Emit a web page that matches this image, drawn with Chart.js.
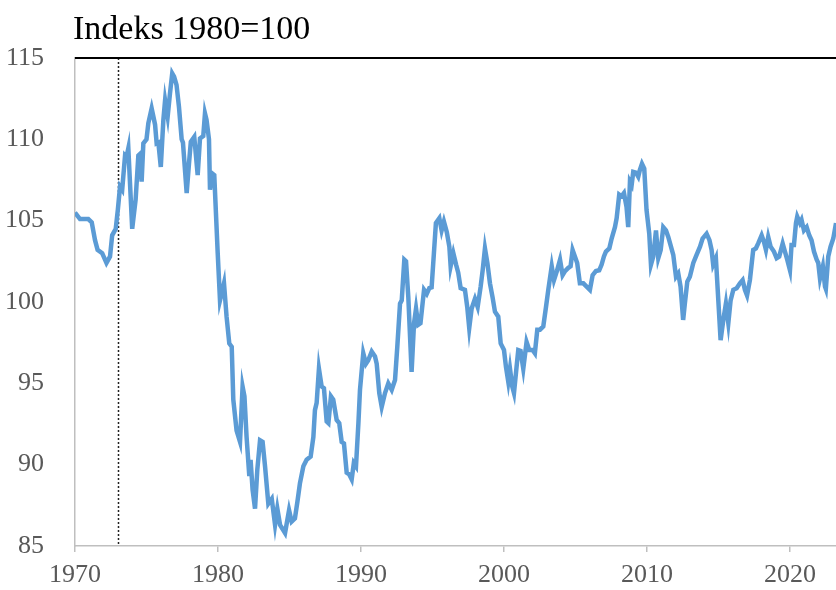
<!DOCTYPE html>
<html>
<head>
<meta charset="utf-8">
<script src="https://cdn.jsdelivr.net/npm/chart.js@4/dist/chart.umd.min.js"></script>
<style>
  html, body { margin: 0; padding: 0; background: #fff; }
  #wrap { width: 836px; height: 590px; }
</style>
</head>
<body>
<div id="wrap"><canvas id="myChart" width="836" height="590"></canvas></div>
<script>
// values (decimal year -> index)
var years = [
    1970.0, 1970.35, 1970.93, 1971.17, 1971.4, 1971.58, 1971.9, 1972.2, 1972.45, 1972.6, 1972.85,
    1973.0, 1973.15, 1973.3, 1973.5, 1973.6, 1973.73, 1974.0, 1974.24, 1974.43, 1974.55, 1974.66, 1974.78,
    1975.0, 1975.13, 1975.36, 1975.6, 1975.71, 1975.83, 1976.0, 1976.18, 1976.3, 1976.48, 1976.64, 1976.8, 1976.93,
    1977.1, 1977.27, 1977.46, 1977.55, 1977.81, 1977.97, 1978.1, 1978.34, 1978.58, 1978.74, 1978.97,
    1979.09, 1979.2, 1979.37, 1979.44, 1979.6, 1979.74, 1979.98, 1980.14, 1980.25, 1980.42, 1980.6,
    1980.79, 1980.96, 1981.07, 1981.3, 1981.54, 1981.72, 1981.85, 1982.0, 1982.19, 1982.28, 1982.42, 1982.59,
    1982.75, 1982.94, 1983.12, 1983.29, 1983.52, 1983.76, 1983.99, 1984.15, 1984.34, 1984.69, 1984.97,
    1985.15, 1985.38, 1985.55, 1985.73, 1985.97, 1986.2, 1986.48, 1986.67, 1986.78, 1986.9, 1987.06,
    1987.25, 1987.41, 1987.6, 1987.72, 1987.9, 1988.06, 1988.3, 1988.48, 1988.65, 1988.81, 1989.0,
    1989.18, 1989.35, 1989.5, 1989.65, 1989.82, 1989.93, 1990.16, 1990.35, 1990.5, 1990.75, 1990.98,
    1991.1, 1991.28, 1991.45, 1991.68, 1991.91, 1992.15, 1992.38, 1992.54, 1992.73, 1992.85, 1993.03,
    1993.15, 1993.31, 1993.54, 1993.71, 1993.85, 1994.0, 1994.16, 1994.41, 1994.6, 1994.78, 1994.94,
    1995.1, 1995.24, 1995.48, 1995.64, 1995.8, 1996.0, 1996.18, 1996.27, 1996.46, 1996.65, 1996.8, 1996.97,
    1997.27, 1997.43, 1997.57, 1997.74, 1997.97, 1998.16, 1998.37, 1998.51, 1998.67, 1998.84,
    1999.02, 1999.2, 1999.37, 1999.6, 1999.77, 2000.0, 2000.14, 2000.3, 2000.42, 2000.58, 2000.7, 2000.88,
    2001.0, 2001.16, 2001.35, 2001.58, 2001.77, 2002.0, 2002.16, 2002.33, 2002.52, 2002.75, 2002.94,
    2003.1, 2003.34, 2003.5, 2003.7, 2003.92, 2004.1, 2004.27, 2004.5, 2004.66, 2004.8, 2004.96,
    2005.12, 2005.31, 2005.55, 2005.78, 2006.01, 2006.2, 2006.43, 2006.66, 2006.83, 2006.99,
    2007.13, 2007.37, 2007.53, 2007.76, 2007.88, 2008.06, 2008.22, 2008.39, 2008.57, 2008.69, 2008.81, 2008.93,
    2009.04, 2009.23, 2009.39, 2009.5, 2009.65, 2009.81, 2009.97, 2010.16, 2010.28, 2010.44, 2010.63, 2010.79, 2010.96,
    2011.14, 2011.33, 2011.49, 2011.65, 2011.84, 2012.03, 2012.19, 2012.35, 2012.53, 2012.65, 2012.82,
    2013.0, 2013.24, 2013.47, 2013.71, 2013.89, 2014.17, 2014.37, 2014.52, 2014.63, 2014.82, 2014.99,
    2015.15, 2015.34, 2015.52, 2015.69, 2015.85, 2016.04, 2016.27, 2016.5, 2016.69, 2016.85, 2017.0,
    2017.2, 2017.43, 2017.62, 2017.78, 2018.02, 2018.18, 2018.32, 2018.48, 2018.65, 2018.88,
    2019.07, 2019.25, 2019.49, 2019.65, 2019.81, 2020.0, 2020.11, 2020.28, 2020.42, 2020.51, 2020.7, 2020.81, 2020.98,
    2021.17, 2021.35, 2021.51, 2021.68, 2021.87, 2021.98, 2022.1, 2022.3, 2022.45, 2022.51, 2022.68, 2022.84,
    2023.03, 2023.22
];
var index = [
    105.5, 105.1, 105.1, 104.9, 103.8, 103.2, 103.0, 102.4, 102.8, 104.1, 104.5,
    105.7, 107.1, 106.9, 109.0, 108.9, 109.45, 104.5, 106.3, 109.0, 109.1, 107.4, 109.75,
    110.0, 111.0, 111.9, 110.9, 109.75, 109.8, 108.3, 111.2, 112.4, 111.4, 112.8, 114.05, 113.85,
    113.35, 112.0, 110.0, 109.8, 106.7, 108.5, 109.85, 110.15, 107.8, 110.05, 110.2,
    111.6, 111.2, 110.0, 106.9, 107.9, 107.8, 103.0, 100.1, 100.5, 101.15, 99.1,
    97.45, 97.25, 94.0, 92.1, 91.4, 94.8, 94.2, 91.7, 89.3, 90.3, 88.45, 87.3,
    89.7, 91.5, 91.4, 89.9, 87.6, 87.9, 86.3, 87.3, 86.3, 85.8, 87.2,
    86.5, 86.7, 87.7, 88.85, 89.9, 90.3, 90.5, 91.7, 93.35, 93.8, 95.9,
    94.8, 94.7, 92.65, 92.55, 94.2, 94.0, 92.75, 92.55, 91.4, 91.3, 89.5,
    89.4, 89.1, 90.1, 89.9, 92.55, 94.6, 96.85, 96.2, 96.4, 96.95, 96.65,
    96.2, 94.4, 93.55, 94.4, 95.0, 94.6, 95.2, 97.25, 99.9, 100.1, 102.6,
    102.5, 100.3, 95.7, 98.7, 99.6, 98.6, 98.7, 100.75, 100.5, 100.85, 100.9,
    103.0, 104.85, 105.15, 104.4, 104.95, 104.3, 103.4, 102.2, 103.0, 102.3, 101.8, 100.85,
    100.75, 99.7, 98.4, 99.6, 100.2, 99.7, 100.95, 101.95, 103.3, 102.4,
    101.15, 100.3, 99.4, 99.1, 97.45, 97.05, 96.0, 95.1, 95.9, 94.8, 94.4, 96.0,
    97.05, 97.0, 95.9, 97.55, 97.05, 97.05, 96.85, 98.3, 98.3, 98.5, 99.7,
    100.75, 102.2, 101.35, 101.9, 102.6, 101.65, 101.9, 102.1, 102.2, 103.2, 102.8,
    102.4, 101.15, 101.15, 100.95, 100.75, 101.65, 101.9, 101.95, 102.3, 102.8,
    103.1, 103.3, 103.9, 104.6, 105.15, 106.6, 106.5, 106.7, 105.85, 104.6, 107.4, 107.2,
    108.0, 107.95, 107.7, 108.1, 108.5, 108.2, 105.65, 104.2, 102.3, 102.8, 104.4, 102.7, 103.2,
    104.6, 104.4, 104.0, 103.5, 102.9, 101.55, 101.75, 100.95, 98.9, 99.9, 101.25,
    101.55, 102.4, 102.9, 103.4, 103.9, 104.2, 103.8, 103.2, 102.3, 102.7, 100.1,
    97.65, 98.9, 99.9, 98.7, 100.1, 100.75, 100.85, 101.15, 101.35, 100.75, 100.4,
    101.35, 103.2, 103.3, 103.6, 104.1, 103.7, 103.2, 104.0, 103.4, 103.1,
    102.7, 102.8, 103.6, 103.1, 102.6, 101.95, 103.5, 103.5, 104.85, 105.25, 104.85, 105.05, 104.4,
    104.6, 104.1, 103.8, 103.1, 102.6, 102.4, 101.45, 102.2, 100.95, 100.8, 102.8, 103.4,
    103.9, 104.85
];
var yTicks = [85, 90, 95, 100, 105, 110, 115];
var xTicks = [1970, 1980, 1990, 2000, 2010, 2020];
var markerYear = 1973;
var titleText = 'Indeks 1980=100';

var points = years.map(function (y, i) { return { x: y, y: index[i] }; });

var extras = {
    id: 'extras',
    beforeDatasetsDraw: function (chart) {
        var ctx = chart.ctx;
        var a = chart.chartArea;
        var x = Math.round(chart.scales.x.getPixelForValue(markerYear)) + 0.5;
        ctx.save();
        ctx.strokeStyle = '#222';
        ctx.lineWidth = 1.5;
        ctx.setLineDash([2, 2]);
        ctx.beginPath();
        ctx.moveTo(x, a.top);
        ctx.lineTo(x, a.bottom);
        ctx.stroke();
        ctx.restore();
    },
    afterDraw: function (chart) {
        var ctx = chart.ctx;
        var a = chart.chartArea;
        ctx.save();
        ctx.strokeStyle = '#000';
        ctx.lineWidth = 2;
        ctx.beginPath();
        ctx.moveTo(a.left, a.top);
        ctx.lineTo(chart.width, a.top);
        ctx.stroke();
        ctx.fillStyle = '#000';
        ctx.font = '34px "Liberation Serif", "Times New Roman", serif';
        ctx.textBaseline = 'alphabetic';
        ctx.fillText(titleText, 73, 39);
        ctx.restore();
    }
};

var ctx = document.getElementById('myChart').getContext('2d');
var myChart = new Chart(ctx, {
    type: 'line',
    data: {
        datasets: [{
            label: 'Indeks',
            data: points,
            borderColor: '#5B9BD5',
            borderWidth: 4.5,
            pointRadius: 0,
            tension: 0,
            fill: false
        }]
    },
    options: {
        responsive: false,
        animation: false,
        layout: { padding: { top: 58, left: 0, right: 0, bottom: 0 } },
        plugins: {
            legend: { display: false },
            tooltip: { enabled: false }
        },
        scales: {
            x: {
                type: 'linear',
                min: 1970,
                max: 2023.22,
                afterFit: function (s) { s.height = 44; },
                afterBuildTicks: function (s) { s.ticks = xTicks.map(function (v) { return { value: v }; }); },
                grid: { display: true, drawOnChartArea: false, drawTicks: true, tickLength: 6, color: '#bfbfbf', lineWidth: 1.5 },
                border: { display: true, color: '#bfbfbf', width: 1.5 },
                ticks: {
                    padding: 8,
                    maxRotation: 0,
                    color: '#595959',
                    font: { family: '"Liberation Serif", "Times New Roman", serif', size: 26 },
                    callback: function (v) { return String(v); }
                }
            },
            y: {
                min: 85,
                max: 115,
                afterFit: function (s) { s.width = 75; },
                afterBuildTicks: function (s) { s.ticks = yTicks.map(function (v) { return { value: v }; }); },
                grid: { display: false },
                border: { display: true, color: '#bfbfbf', width: 1.5 },
                ticks: {
                    padding: 23,
                    color: '#595959',
                    font: { family: '"Liberation Serif", "Times New Roman", serif', size: 26 }
                }
            }
        }
    },
    plugins: [extras]
});
</script>
</body>
</html>
